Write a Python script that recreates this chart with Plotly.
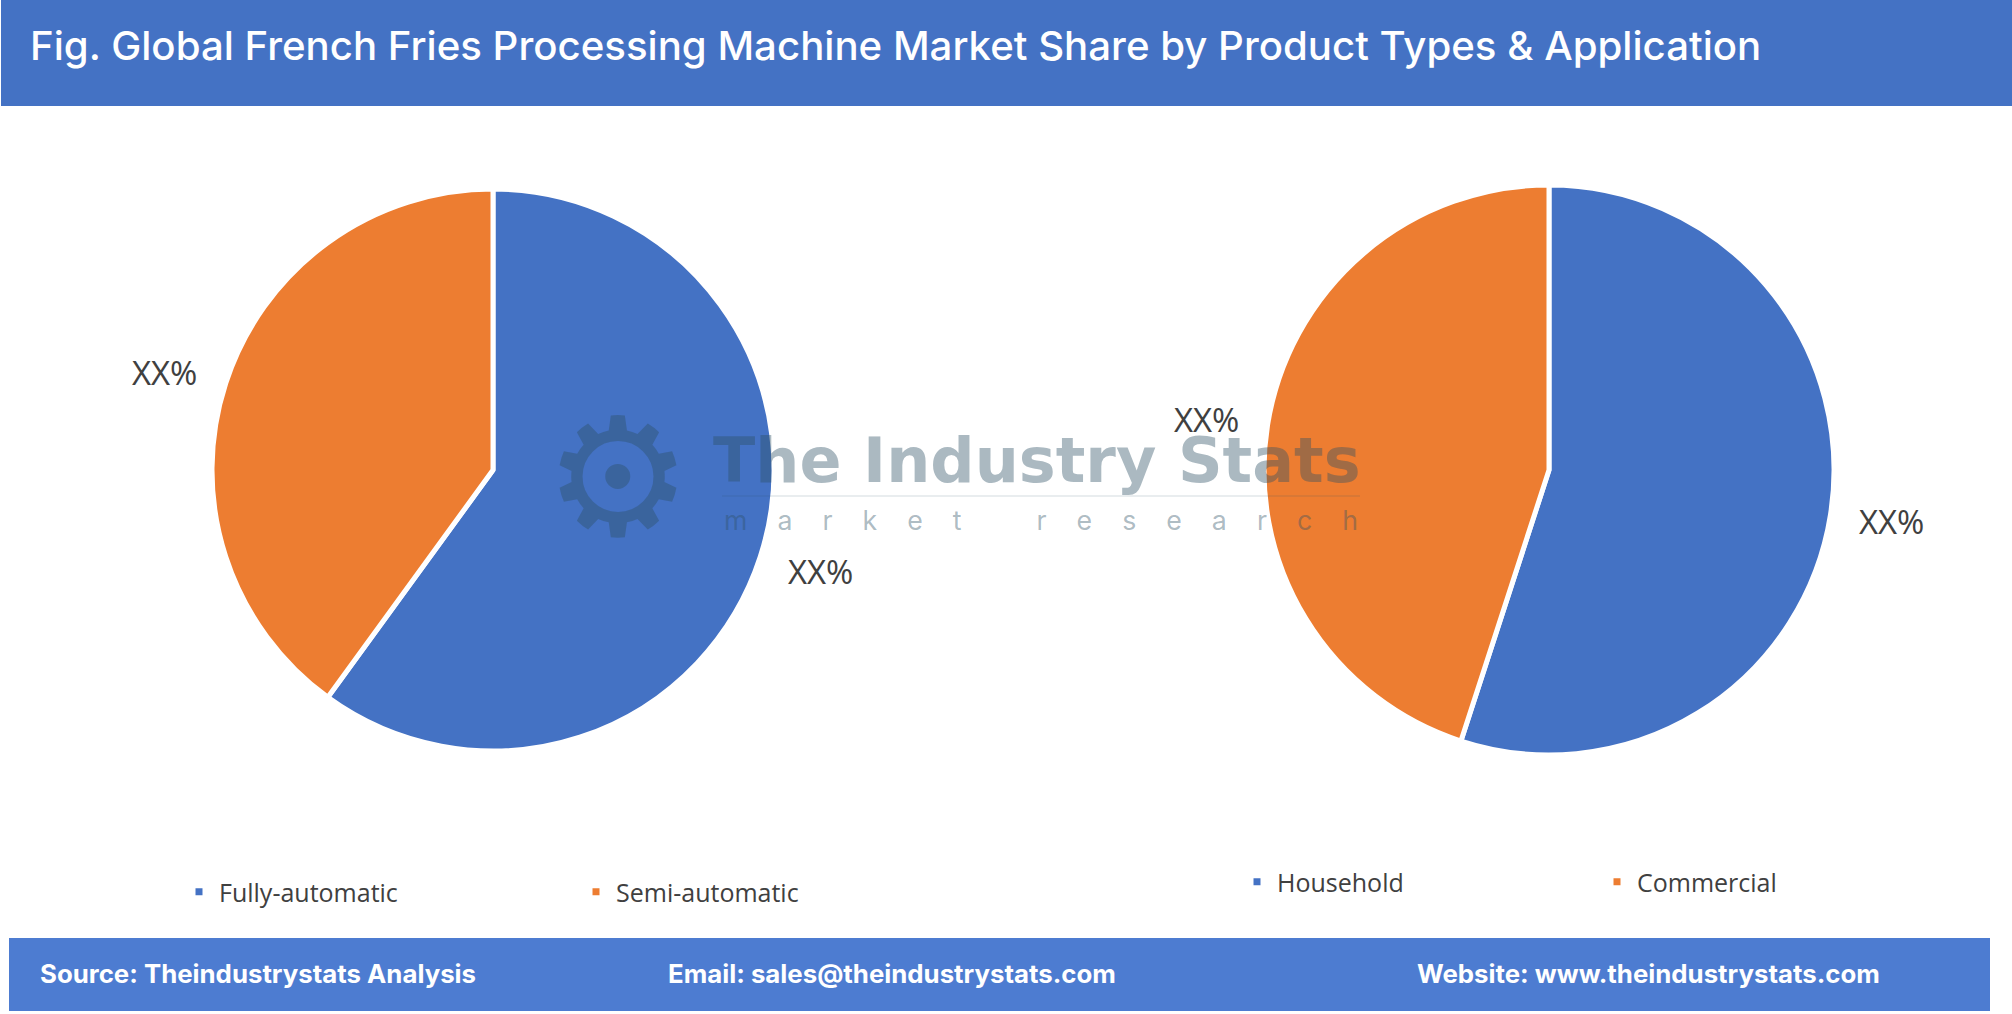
import plotly.graph_objects as go

W = 2012
H = 1014

title = "Fig. Global French Fries Processing Machine Market Share by Product Types &amp; Application"
type_labels = ["Fully-automatic", "Semi-automatic"]
type_values = [60, 40]
app_labels = ["Household", "Commercial"]
app_values = [55, 45]
colors = ["#4472C4", "#ED7D31"]
footer_texts = ["Source: Theindustrystats Analysis", "Email: sales@theindustrystats.com", "Website: www.theindustrystats.com"]
footer_x = [38, 666, 1415]


def px(x):
    return x / W


def py(y):
    return 1 - y / H


def pie_domain(cx, cy, r):
    return dict(x=[px(cx - r), px(cx + r)], y=[py(cy + r), py(cy - r)])


def note(text, x, y, size, color, family="Open Sans", anchor="left", weight=None):
    return dict(text=text, x=px(x), y=py(y), xref="paper", yref="paper", xanchor=anchor, yanchor="middle",
                showarrow=False, font=dict(family=family, size=size, color=color, weight=weight))


fig = go.Figure()
fig.add_trace(go.Pie(labels=type_labels, values=type_values, sort=False, direction="clockwise", rotation=0,
                     textinfo="none", hoverinfo="label+percent", marker=dict(colors=colors, line=dict(color="white", width=5)),
                     domain=pie_domain(493, 470, 281), legend="legend"))
fig.add_trace(go.Pie(labels=app_labels, values=app_values, sort=False, direction="clockwise", rotation=0,
                     textinfo="none", hoverinfo="label+percent", marker=dict(colors=colors, line=dict(color="white", width=5)),
                     domain=pie_domain(1549, 470, 285), legend="legend2"))

legend_font = dict(family="Open Sans", size=25, color="#404040")
legend_base = dict(orientation="h", xanchor="left", yanchor="middle", font=legend_font,
                   entrywidthmode="pixels", bgcolor="rgba(0,0,0,0)", itemclick=False, itemdoubleclick=False)

shapes = [
    dict(type="rect", xref="paper", yref="paper", x0=px(1), x1=1, y0=py(106), y1=1, fillcolor="#4472C4", line_width=0, layer="below"),
    dict(type="rect", xref="paper", yref="paper", x0=px(9), x1=px(1990), y0=py(1011), y1=py(938), fillcolor="#4D7CD1", line_width=0, layer="below"),
    dict(type="line", xref="paper", yref="paper", x0=px(722), x1=px(1360), y0=py(496), y1=py(496), line=dict(color="rgba(44,80,100,0.1)", width=2)),
]

mark = "rgba(44,80,100,0.4)"
annotations = [
    note(title, 28, 45, 40.2, "white", "Inter", weight=500),
    note("XX%", 164, 372, 33, "#404040", anchor="center"),
    note("XX%", 820, 571, 33, "#404040", anchor="center"),
    note("XX%", 1206, 419, 33, "#404040", anchor="center"),
    note("XX%", 1891, 521, 33, "#404040", anchor="center"),
    note("⚙", 618, 478, 165, mark, "DejaVu Sans", anchor="center"),
    note("<b>The Industry Stats</b>", 1037, 460, 62, mark, "DejaVu Sans", anchor="center"),
    note("m  a  r  k  e  t     r  e  s  e  a  r  c  h".replace(" ", "\u00a0\u00a0"), 1041, 520, 26.7, mark, "Inter", anchor="center"),
]
for text, x in zip(footer_texts, footer_x):
    annotations.append(note("<b>" + text + "</b>", x, 973, 25.8, "white", "Inter"))

fig.update_layout(
    width=W, height=H, margin=dict(l=0, r=0, t=0, b=0, autoexpand=False), paper_bgcolor="white", plot_bgcolor="white",
    shapes=shapes, annotations=annotations,
    legend=dict(x=px(179), y=py(892), entrywidth=352, **legend_base),
    legend2=dict(x=px(1237), y=py(882), entrywidth=315, **legend_base),
)
fig.write_html("out.html", post_script="document.body.style.margin='0';", config=dict(displayModeBar=False))
